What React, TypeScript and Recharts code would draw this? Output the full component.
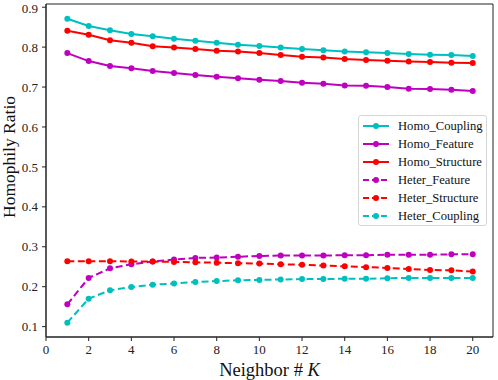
import { LineChart, Line, XAxis, YAxis, ReferenceArea } from 'recharts'

const neighborK = [1, 2, 3, 4, 5, 6, 7, 8, 9, 10, 11, 12, 13, 14, 15, 16, 17, 18, 19, 20]

const homoCoupling = [0.871, 0.853, 0.842, 0.833, 0.827, 0.821, 0.816, 0.811, 0.806, 0.803, 0.799, 0.795, 0.792, 0.789, 0.787, 0.785, 0.783, 0.781, 0.780, 0.778]
const homoFeature = [0.785, 0.765, 0.753, 0.747, 0.740, 0.735, 0.730, 0.726, 0.722, 0.718, 0.715, 0.711, 0.708, 0.704, 0.703, 0.700, 0.696, 0.695, 0.693, 0.690]
const homoStructure = [0.841, 0.831, 0.817, 0.811, 0.802, 0.799, 0.795, 0.791, 0.789, 0.785, 0.780, 0.776, 0.774, 0.770, 0.768, 0.766, 0.764, 0.763, 0.761, 0.760]
const heterFeature = [0.156, 0.222, 0.246, 0.256, 0.263, 0.268, 0.272, 0.273, 0.275, 0.277, 0.278, 0.278, 0.278, 0.279, 0.279, 0.280, 0.280, 0.280, 0.281, 0.281]
const heterStructure = [0.264, 0.264, 0.264, 0.263, 0.263, 0.262, 0.261, 0.260, 0.259, 0.258, 0.256, 0.255, 0.253, 0.251, 0.249, 0.247, 0.244, 0.242, 0.241, 0.238]
const heterCoupling = [0.110, 0.170, 0.191, 0.199, 0.205, 0.208, 0.212, 0.214, 0.216, 0.217, 0.218, 0.219, 0.219, 0.220, 0.220, 0.221, 0.222, 0.222, 0.222, 0.222]

const xTicks = [0, 2, 4, 6, 8, 10, 12, 14, 16, 18, 20]
const yTicks = [0.1, 0.2, 0.3, 0.4, 0.5, 0.6, 0.7, 0.8, 0.9]

const CYAN = '#00bfbf'
const MAGENTA = '#bf00bf'
const RED = '#ff0000'
const FONT = 'Liberation Serif'

const series = [
  { key: 'Homo_Coupling', values: homoCoupling, color: CYAN, dashed: false },
  { key: 'Homo_Feature', values: homoFeature, color: MAGENTA, dashed: false },
  { key: 'Homo_Structure', values: homoStructure, color: RED, dashed: false },
  { key: 'Heter_Feature', values: heterFeature, color: MAGENTA, dashed: true },
  { key: 'Heter_Structure', values: heterStructure, color: RED, dashed: true },
  { key: 'Heter_Coupling', values: heterCoupling, color: CYAN, dashed: true },
]

const data = neighborK.map((k, i) => {
  const row: any = { k }
  series.forEach((s) => {
    row[s.key] = s.values[i]
  })
  return row
})

function LegendBox() {
  return (
    <div
      style={{
        position: 'absolute',
        left: 358,
        top: 115,
        width: 129,
        height: 111,
        border: '1px solid #d6d6d6',
        borderRadius: 3,
        background: 'rgba(255,255,255,0.85)',
        boxSizing: 'border-box',
      }}
    >
      {series.map((s, i) => (
        <div
          key={s.key}
          style={{ position: 'absolute', left: 3, top: 1 + i * 18, height: 18, display: 'flex', alignItems: 'center' }}
        >
          <svg width={28} height={10} style={{ marginRight: 8 }}>
            <line
              x1={1}
              y1={5}
              x2={27}
              y2={5}
              stroke={s.color}
              strokeWidth={2}
              strokeDasharray={s.dashed ? '6 3' : undefined}
            />
            <circle cx={14} cy={5} r={3} fill={s.color} />
          </svg>
          <span style={{ fontFamily: FONT, fontSize: 12.6, color: '#111', whiteSpace: 'nowrap' }}>{s.key}</span>
        </div>
      ))}
    </div>
  )
}

export default function App() {
  const tickStyle = { fontFamily: FONT, fontSize: 13, fill: '#222' }
  return (
    <div style={{ position: 'absolute', left: 0, top: 0, width: 498, height: 380, background: '#fff' }}>
      <LineChart width={498} height={380} data={data} margin={{ top: 4, right: 5, left: 0, bottom: 0 }}>
        <XAxis
          dataKey="k"
          type="number"
          domain={[0, 20.95]}
          ticks={xTicks}
          allowDataOverflow
          height={43}
          tick={tickStyle}
          fontFamily={FONT}
          tickSize={4}
          tickMargin={4}
          stroke="#222"
          label={{
            position: 'insideBottom',
            content: (props: any) => {
              const vb = props.viewBox
              return (
                <text x={vb.x + vb.width / 2} y={376} textAnchor="middle" fontFamily={FONT} fontSize={18.5} fill="#111">
                  Neighbor # <tspan fontStyle="italic">K</tspan>
                </text>
              )
            },
          }}
        />
        <YAxis
          type="number"
          domain={[0.074, 0.908]}
          ticks={yTicks}
          allowDataOverflow
          width={46}
          tick={tickStyle}
          fontFamily={FONT}
          tickSize={4}
          tickMargin={4}
          stroke="#222"
          tickFormatter={(v: number) => v.toFixed(1)}
          label={{
            position: 'insideLeft',
            content: () => (
              <text
                x={15}
                y={157}
                transform="rotate(-90 15 157)"
                textAnchor="middle"
                fontFamily={FONT}
                fontSize={17.5}
                fill="#111"
              >
                Homophily Ratio
              </text>
            ),
          }}
        />
        <ReferenceArea x1={0} x2={20.95} y1={0.074} y2={0.908} fill="none" stroke="#222" strokeWidth={1} ifOverflow="extendDomain" />
        {series.map((s) => (
          <Line
            key={s.key}
            dataKey={s.key}
            stroke={s.color}
            strokeWidth={2}
            strokeDasharray={s.dashed ? '7 3.5' : undefined}
            dot={{ r: 3, fill: s.color, stroke: 'none', strokeWidth: 0 }}
            activeDot={false}
            isAnimationActive={false}
          />
        ))}
      </LineChart>
      <LegendBox />
    </div>
  )
}
